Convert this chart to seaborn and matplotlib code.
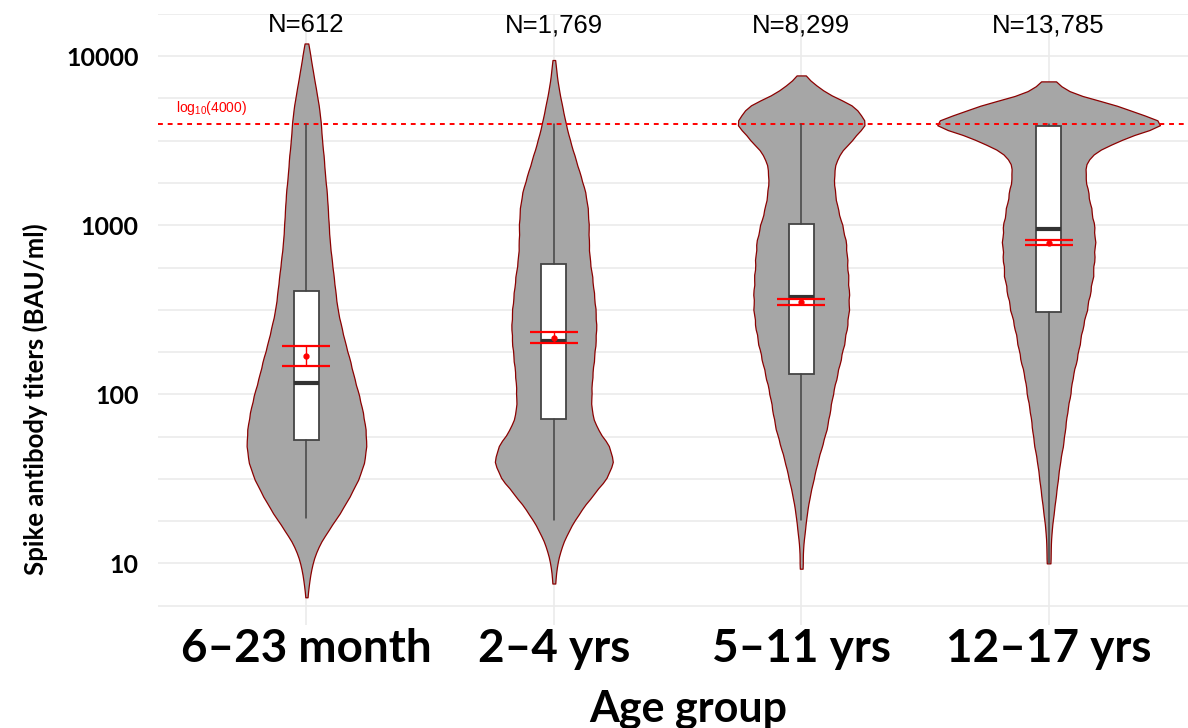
import seaborn as sns
import matplotlib.pyplot as plt
import matplotlib.ticker as mticker
import pandas as pd
import numpy as np

groups = ["6–23 month", "2–4 yrs", "5–11 yrs", "12–17 yrs"]
n_labels = ["N=612", "N=1,769", "N=8,299", "N=13,785"]

# violin outlines: relative widths at log10(titer) levels
log_levels = [4.0, 3.9, 3.8, 3.7, 3.6, 3.5, 3.4, 3.3, 3.2, 3.1, 3.0, 2.9, 2.8, 2.7, 2.6, 2.5,
              2.4, 2.3, 2.2, 2.1, 2.0, 1.9, 1.8, 1.7, 1.6, 1.5, 1.4, 1.3, 1.2, 1.1, 1.0, 0.9]
w_623m = [4, 7, 10, 13, 15, 16, 18, 19, 21, 22, 23, 24, 26, 28, 30, 32,
          36, 40, 45, 49, 54, 58, 61, 62, 60, 54, 45, 35, 23, 12, 6, 3]
w_24y = [0, 3, 6, 10, 14, 19, 25, 31, 37, 40, 41, 41, 42, 45, 47, 49,
         50, 49, 47, 45, 44, 44, 50, 65, 71, 62, 45, 30, 18, 9, 4, 1]
w_511y = [0, 0, 20, 58, 70, 52, 37, 34, 35, 38, 43, 47, 48, 49, 50, 50,
          48, 45, 41, 37, 33, 30, 27, 22, 17, 13, 9, 6, 4, 2, 1, 0]
w_1217y = [0, 0, 12, 70, 120, 65, 37, 35, 38, 41, 44, 45, 44, 43, 40, 37,
           33, 30, 27, 23, 21, 18, 16, 14, 11, 9, 7, 5, 3, 2, 1, 0]
tip_low = [6.3, 7.6, 9.3, 10.1]
tip_high = [11900, 9500, 7700, 7100]

# box / mean summaries
q1 = [53.4, 71.6, 132, 305]
med = [117, 207, 377, 950]
q3 = [407, 588, 1014, 3856]
whis_lo = [18.6, 18, 18, 10.1]
whis_hi = [4000, 4000, 4000, 4000]
means = [169, 216, 352, 787]
ci_lo = [148, 200, 338, 760]
ci_hi = [194, 234, 365, 816]

cutoff = 4000

frames = []
for g, w, lo, hi in zip(groups, [w_623m, w_24y, w_511y, w_1217y], tip_low, tip_high):
    vals = np.repeat(10 ** np.array(log_levels), w)
    vals = np.concatenate([vals, [lo, hi]])
    frames.append(pd.DataFrame({"group": g, "titer": vals}))
df = pd.concat(frames, ignore_index=True)

sns.set_style("white")
plt.rcParams["font.family"] = ["Lato", "DejaVu Sans"]
plt.rcParams["text.color"] = "black"
plt.rcParams["axes.labelcolor"] = "black"
plt.rcParams["xtick.color"] = "black"
plt.rcParams["ytick.color"] = "black"

fig = plt.figure(figsize=(11.88, 7.28), dpi=100)
ax = fig.add_axes([0.1330, 0.1415, 0.8746, 0.8393])

sns.violinplot(data=df, x="group", y="titer", order=groups, log_scale=True, cut=0,
               inner=None, density_norm="area", width=0.9, bw_method=0.08,
               color="#A6A6A6", linecolor="#8B0000", linewidth=0.9, saturation=1, ax=ax)

ax.axhline(cutoff, color="red", ls=(0, (2.5, 2.5)), lw=1.4, zorder=2.5)
ax.text(-0.527, 4940, r"$\mathregular{log_{10}}$(4000)", color="red", fontsize=10,
        ha="left", va="center", family=["Liberation Sans Narrow", "Liberation Sans"])

stats = [dict(q1=a, med=m, q3=b, whislo=lo, whishi=hi, label=g)
         for a, m, b, lo, hi, g in zip(q1, med, q3, whis_lo, whis_hi, groups)]
ax.bxp(stats, positions=range(4), widths=0.1, showfliers=False, showcaps=False,
       patch_artist=True, manage_ticks=False, zorder=3,
       boxprops=dict(facecolor="white", edgecolor="#444444", lw=1.3),
       medianprops=dict(color="#333333", lw=3),
       whiskerprops=dict(color="#444444", lw=1.1))

means = np.array(means)
ax.errorbar(range(4), means, yerr=[means - np.array(ci_lo), np.array(ci_hi) - means],
            fmt="o", color="red", ms=3.5, capsize=17.5, capthick=1.6, elinewidth=1, zorder=4)

for i, lab in enumerate(n_labels):
    ax.text(i, 15200, lab, ha="center", va="center", fontsize=18.5,
            family=["Liberation Sans", "DejaVu Sans"])

ax.set_xlim(-0.6, 3.6)
ax.set_ylim(4.32, 16950)
ax.set_yticks([10, 100, 1000, 10000])
ax.yaxis.set_major_formatter(mticker.FixedFormatter(["10", "100", "1000", "10000"]))
ax.set_yticks(10 ** np.arange(0.75, 4.3, 0.25), minor=True)
ax.yaxis.set_minor_formatter(mticker.NullFormatter())
ax.grid(which="both", color="#EBEBEB", lw=1.2)
ax.set_axisbelow(True)
ax.tick_params(which="both", length=0)
ax.tick_params(axis="y", pad=14, labelsize=18)
ax.tick_params(axis="x", pad=2, labelsize=33)
for t in ax.get_xticklabels() + ax.get_yticklabels():
    t.set_fontweight("bold")
sns.despine(ax=ax, left=True, bottom=True)

ax.set_xlabel("Age group", fontsize=31, fontweight="bold")
ax.xaxis.set_label_coords(0.51, -0.105)
ax.set_ylabel("Spike antibody titers (BAU/ml)", fontsize=18.5, fontweight="bold")
ax.yaxis.set_label_coords(-0.106, 0.37)

fig.savefig("out.png", dpi=100)
